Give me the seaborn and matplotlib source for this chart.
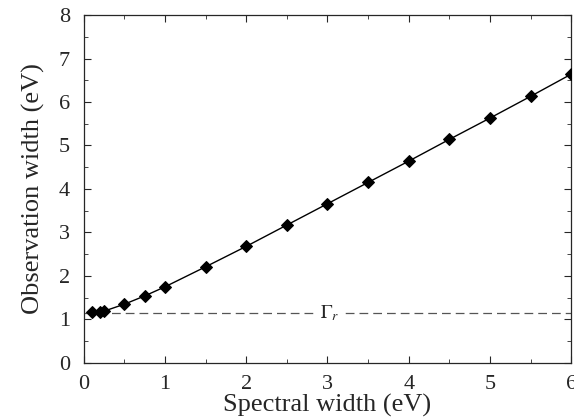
import pandas as pd
import matplotlib
matplotlib.use("Agg")
import matplotlib.pyplot as plt
import seaborn as sns
from matplotlib.ticker import MultipleLocator

# data
spectral_width = [0.1, 0.2, 0.25, 0.5, 0.75, 1.0, 1.5, 2.0, 2.5, 3.0, 3.5, 4.0, 4.5, 5.0, 5.5, 6.0]
observation_width = [1.16, 1.18, 1.19, 1.35, 1.54, 1.75, 2.21, 2.68, 3.17, 3.66, 4.15, 4.64, 5.14, 5.63, 6.13, 6.64]
gamma_r = 1.14

df = pd.DataFrame({"Spectral width": spectral_width, "Observation width": observation_width})

sns.set_style("ticks")
plt.rcParams["font.family"] = ["Liberation Serif", "DejaVu Serif"]
plt.rcParams["mathtext.fontset"] = "stix"

fig = plt.figure(figsize=(5.74, 4.19), dpi=100)
ax = fig.add_axes([0.146, 0.134, 0.849, 0.830])

ax.axhline(gamma_r, color="#555555", lw=0.9, ls=(0, (7, 4)), zorder=1)
ax.text(3.03, gamma_r, r"$\Gamma_r$", ha="center", va="center", fontsize=14,
        bbox=dict(facecolor="white", edgecolor="none", pad=2), zorder=2)

sns.lineplot(data=df, x="Spectral width", y="Observation width", ax=ax,
             color="black", lw=1.0, marker="D", markersize=6.5, markeredgecolor="black", zorder=3)

ax.set_xlim(0, 6)
ax.set_ylim(0, 8)
ax.xaxis.set_major_locator(MultipleLocator(1))
ax.xaxis.set_minor_locator(MultipleLocator(0.5))
ax.yaxis.set_major_locator(MultipleLocator(1))
ax.yaxis.set_minor_locator(MultipleLocator(0.5))
ax.tick_params(which="both", direction="in", top=True, right=True, labelsize=16)
ax.tick_params(axis="x", pad=9)
ax.tick_params(axis="y", pad=10)
ax.tick_params(which="major", length=5, width=0.8)
ax.tick_params(which="minor", length=3, width=0.6)
for s in ax.spines.values():
    s.set_linewidth(0.9)

ax.set_xlabel("Spectral width (eV)", fontsize=19, labelpad=0)
ax.set_ylabel("Observation width (eV)", fontsize=19, labelpad=10)

fig.savefig("out.png", dpi=100)
